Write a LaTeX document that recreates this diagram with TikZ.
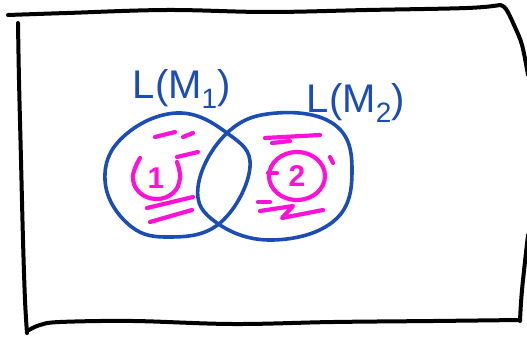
\documentclass[tikz,border=0pt]{standalone}
\usepackage{fontspec}
\setmainfont{Liberation Sans}
\definecolor{inkblue}{HTML}{1B4DB5}
\definecolor{inkpink}{HTML}{FF12D8}
\begin{document}
\begin{tikzpicture}[x=1pt,y=-1pt,
  frameline/.style={line width=4pt,line cap=round,line join=round,black},
  setline/.style={line width=3.6pt,inkblue,line join=round},
  markline/.style={line width=4.2pt,inkpink,line cap=round,line join=round},
  setlabel/.style={inkblue,font=\fontsize{40}{40}\selectfont},
  elemlabel/.style={inkpink,font=\bfseries\fontsize{30}{30}\selectfont}]
\useasboundingbox (0,0) rectangle (527,337);
% hand-drawn frame
\draw[frameline] plot[smooth,tension=0.6] coordinates {(8,15) (67,13) (167,10) (267,12) (367,10) (467,8) (500,5)};
\draw[frameline] plot[smooth,tension=0.6] coordinates {(500,5) (506,9) (514,25) (522,45) (528,75)};
\draw[frameline] plot[smooth,tension=0.6] coordinates {(18,23) (19,80) (21,160) (23,240) (25,300) (27,333)};
\draw[frameline] plot[smooth,tension=0.6] coordinates {(29,330) (40,325) (60,322) (133,321) (233,324) (333,322) (433,321) (520,320)};
\draw[frameline] plot[smooth,tension=0.6] coordinates {(520,321) (522,290) (528,235)};
% the two languages
\draw[setline] plot[smooth cycle,tension=0.7] coordinates {(105,180) (123,137) (177,113) (227,133) (250,167) (220,223) (167,237) (127,223)};
\draw[setline] plot[smooth cycle,tension=0.7] coordinates {(198,187) (227,133) (277,113) (335,125) (352,170) (335,220) (273,240) (217,223)};
\node[setlabel] (l1) at (182,89) {L(M\textsubscript{1})};
\node[setlabel] (l2) at (356,103) {L(M\textsubscript{2})};
% element of the first language
\node[elemlabel] (e1) at (156,178) {1};
\draw[markline] plot[smooth,tension=0.7] coordinates {(140,158) (133,176) (139,192) (156,199) (173,193) (180,178) (177,162)};
\draw[markline] (155,137) -- (175,132);
\draw[markline] (183,137) -- (193,133);
\draw[markline] (177,157) -- (198,152);
\draw[markline] (147,208) -- (193,197);
\draw[markline] (150,222) -- (192,210);
% element of the second language
\node[elemlabel] (e2) at (297,176) {2};
\draw[markline] (e2) ellipse[x radius=28,y radius=24];
\draw[markline] (265,138) -- (320,135);
\draw[markline] (272,143) -- (290,141);
\draw[markline] (330,157) -- (333,163);
\draw[markline] (268,173) -- (277,173);
\draw[markline] (258,202) -- (270,202);
\draw[markline] (260,211) -- (293,206) -- (282,218) -- (323,210);
\end{tikzpicture}
\end{document}
